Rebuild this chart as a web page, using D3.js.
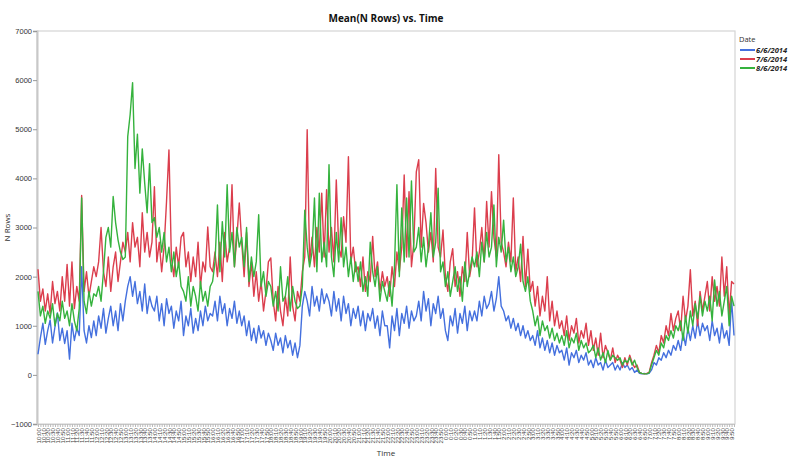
<!DOCTYPE html>
<html><head><meta charset="utf-8">
<script src="https://cdn.jsdelivr.net/npm/d3@7"></script>
<style>body{margin:0;background:#fff;} svg{display:block;font-family:"Open Sans","Noto Sans",sans-serif;}</style>
</head><body><svg id="c" width="800" height="461"></svg>
<script>
// ---- data ----
const seriesNames = ["6/6/2014", "7/6/2014", "8/6/2014"];
const yTicks = [-1000, 0, 1000, 2000, 3000, 4000, 5000, 6000, 7000];
const startMinute = 600;   // 10:00
const stepMinutes = 5;

const blue6 = [
 420,760,1050,620,900,1120,650,980,1260,700,950,640,
 900,320,1050,700,950,800,2200,900,650,1000,760,1100,
 800,1200,950,1350,850,1150,1400,1000,1300,900,1450,1100,
 1500,1800,2000,1600,1900,1450,1700,1300,1850,1250,1600,1400,
 1300,1600,1100,1450,1000,1550,1250,1400,950,1300,1100,1500,
 800,1200,1000,1350,850,1150,900,1300,1000,1400,1100,1250,
 1200,1500,1100,1600,1250,1450,1000,1350,1150,1500,1050,1300,
 1000,1200,800,1100,700,950,650,1000,750,900,600,850,
 700,500,850,600,750,450,800,550,700,400,650,350,
 600,1400,1700,1500,1200,1800,1400,1600,1300,1750,1450,1650,
 1500,1200,1700,1300,1550,1100,1600,1250,1450,1000,1350,1150,
 1400,1000,1300,900,1250,1100,1350,950,1200,800,1300,1000,
 1000,550,1200,900,1350,800,1250,1050,1400,950,1300,1100,
 1200,1500,1100,1700,1300,1550,1000,1450,1250,1600,1150,1350,
 900,700,1200,1000,1350,850,1250,1050,1400,900,1300,1100,
 1300,1100,1500,1200,1600,1350,1450,1700,1300,1550,2000,1400,
 1300,1100,1200,950,1150,900,1050,800,1000,750,900,700,
 800,600,900,550,750,500,700,450,650,400,600,450,
 500,300,550,200,450,350,500,250,400,300,450,200,
 300,150,350,200,250,100,300,150,200,250,100,200,
 100,250,150,200,100,150,50,100,30,20,30,20,
 30,100,250,200,350,300,450,350,500,400,600,500,
 700,500,850,600,950,700,1000,750,1100,800,1050,900,
 1000,700,1100,800,950,650,1050,750,900,600,1530,800
];
const red7 = [
 2150,1500,1750,1300,1650,1250,1900,1450,1700,1300,2000,1500,
 2250,1400,2300,1350,1800,1500,3650,1700,2100,1600,1900,2200,
 2000,2300,3000,2100,1800,2400,1700,2200,2500,1900,2300,2700,
 2500,2900,2300,3100,2600,2800,2200,3300,2500,2900,2400,2700,
 3830,2300,2700,2100,2600,3530,4580,2400,2000,2600,2200,2800,
 2900,2200,2500,1900,2400,2000,2700,1800,2300,2100,3010,2200,
 2100,2500,2000,2700,1900,2900,2300,2600,3870,2200,2800,3500,
 2700,2000,2900,1800,2300,1600,2100,1500,1900,1300,1700,2300,
 2380,1500,1100,1800,1300,1000,1600,1200,2400,1400,1100,1700,
 1500,2100,2400,4990,2300,2800,2200,3000,2500,3700,2400,3770,
 2500,3000,2300,3970,2600,2400,3220,2700,4440,2300,2600,2100,
 2200,1800,2400,1700,2100,1900,2820,2000,2300,1700,2100,1800,
 2000,1600,2200,1800,2500,2100,2600,4070,2400,3730,2200,2700,
 4130,4380,2600,3490,3100,2500,2900,2300,4200,2600,2400,2950,
 2000,1700,2300,2570,1800,2100,1600,2200,1900,2900,2000,2300,
 3400,2200,2500,3000,2300,3530,2600,3730,2800,2400,4480,2700,
 2500,2200,2700,2300,3600,2100,2400,1900,2820,1800,2560,1700,
 1900,1400,1800,1200,1600,1300,2000,1100,1500,1000,1300,950,
 1100,800,1200,700,1000,850,1150,650,900,750,1050,600,
 900,500,750,400,850,350,600,450,300,550,250,400,
 300,150,350,200,400,250,150,200,50,30,20,30,
 50,250,400,600,450,800,650,1000,800,1250,900,1150,
 1300,900,1600,1100,1400,2140,1200,1500,1000,1700,1300,1600,
 1900,1300,2000,1500,1800,1400,2400,1600,2200,1200,1900,1850
];
const green8 = [
 1700,1200,1400,1050,1300,1150,1450,1000,1250,1100,1500,1150,
 1300,1000,1450,1100,900,1350,3600,1500,1250,1700,1400,1650,
 1600,1800,1500,2100,2800,3000,2600,3630,3100,2750,2500,2350,
 2400,4850,5300,5950,4200,4900,3700,4600,3900,3300,4300,3100,
 3200,2800,3000,2500,2900,2300,2600,2100,2500,2000,2300,1800,
 1700,1500,2000,1400,1800,1600,1300,1900,1500,1700,1400,1800,
 1900,2300,3460,2100,3120,2400,3870,2500,2900,2200,3000,2600,
 2800,2200,3000,1900,2400,2000,2300,3260,1800,2100,1600,1900,
 1800,1400,1700,1300,2200,1500,1600,2000,1300,1800,1500,1350,
 1400,1800,3350,2600,2200,2500,3600,2100,3700,2300,2700,2200,
 4280,2400,2000,2900,2300,3200,2200,2600,2000,2400,1900,2300,
 1900,2300,1700,2000,1600,2700,2100,1800,2200,1500,1900,1700,
 1500,1900,1400,2200,3870,2000,3400,2300,3600,2400,3950,2500,
 2600,3000,2300,2800,2200,2600,3300,2400,2700,3800,2100,2300,
 1800,2100,1600,1900,2200,1700,2000,1500,2300,1800,2100,2400,
 2200,2500,2000,2700,2300,2900,2400,2600,3460,2200,2800,2500,
 3150,2300,2600,2100,2400,2000,2200,2660,1900,1700,2000,1500,
 1300,1000,1200,800,1100,900,1000,750,950,700,850,650,
 800,600,900,550,750,650,850,500,700,550,650,450,
 500,600,350,550,300,450,250,500,300,400,350,300,
 350,200,300,250,350,200,300,150,50,30,20,20,
 40,200,350,500,400,650,550,800,700,900,750,1000,
 900,1100,700,1200,850,1300,1000,1450,1150,1600,1200,1500,
 1300,1600,1100,1930,1400,1700,1200,1500,1800,1000,1600,1400
];
const times = blue6.map((_, i) => {
  const m = (startMinute + stepMinutes * i) % 1440;
  return Math.floor(m / 60) + ":" + String(m % 60).padStart(2, "0");
});
const series = [
  {name: seriesNames[0], values: blue6, color: "#4470DE"},
  {name: seriesNames[1], values: red7, color: "#DB3E4D"},
  {name: seriesNames[2], values: green8, color: "#35B23D"}
];

// ---- layout ----
const svg = d3.select("#c");
const L = 37, R = 735, T = 31, B = 424;
const x = d3.scalePoint().domain(times).range([L + 1, R - 1]);
const y = d3.scaleLinear().domain([-1000, 7000]).range([B, T]);

// frame
svg.append("rect").attr("x", L).attr("y", T).attr("width", R - L).attr("height", B - T)
  .attr("fill", "none").attr("stroke", "#d4d4d4").attr("stroke-width", 1.2);

// y axis
const ya = svg.append("g").attr("transform", `translate(${L},0)`)
  .call(d3.axisLeft(y).tickValues(yTicks).tickSize(4).tickFormat(d3.format("d")));
ya.select(".domain").attr("stroke", "#c8c8c8").attr("stroke-width", 2);
ya.selectAll(".tick line").attr("stroke", "#999");
ya.selectAll(".tick text").attr("font-size", 7.5).attr("fill", "#333").attr("x", -5);

// x axis ticks (every point)
const xa1 = svg.append("g").attr("transform", `translate(0,${B})`)
  .call(d3.axisBottom(x).tickSize(3).tickFormat(""));
xa1.select(".domain").attr("stroke", "#c8c8c8");
xa1.selectAll(".tick line").attr("stroke", "#bbb");

// x axis labels (every other point)
const xa2 = svg.append("g").attr("transform", `translate(0,${B})`)
  .call(d3.axisBottom(x).tickValues(times.filter((d, i) => i % 2 === 0)).tickSize(0));
xa2.select(".domain").remove();
xa2.selectAll(".tick text")
  .attr("font-size", 6.2).attr("fill", "#444")
  .attr("transform", "rotate(-90)").attr("text-anchor", "end")
  .attr("x", -4).attr("y", 0).attr("dy", "0.35em");

// lines
const line = d3.line().x((d, i) => x(times[i])).y(d => y(d));
svg.append("g").selectAll("path").data(series).join("path")
  .attr("d", d => line(d.values))
  .attr("fill", "none").attr("stroke", d => d.color)
  .attr("stroke-width", 1.4).attr("stroke-linejoin", "round");

// title & axis labels
svg.append("text").attr("x", (L + R) / 2).attr("y", 22).attr("text-anchor", "middle")
  .attr("font-size", 10).attr("font-weight", "bold").attr("fill", "#111").text("Mean(N Rows) vs. Time");
svg.append("text").attr("x", (L + R) / 2).attr("y", 456).attr("text-anchor", "middle")
  .attr("font-size", 8).attr("fill", "#333").text("Time");
svg.append("text").attr("transform", `translate(10,${(T + B) / 2}) rotate(-90)`).attr("text-anchor", "middle")
  .attr("font-size", 8).attr("fill", "#333").text("N Rows");

// legend
const lg = svg.append("g").attr("transform", "translate(739,0)");
lg.append("text").attr("x", 0).attr("y", 42).attr("font-size", 7.5).attr("fill", "#333").text("Date");
const li = lg.selectAll("g.item").data(series).join("g").attr("class", "item")
  .attr("transform", (d, i) => `translate(0,${50 + i * 9})`);
li.append("line").attr("x1", 1).attr("x2", 16).attr("y1", 0).attr("y2", 0)
  .attr("stroke", d => d.color).attr("stroke-width", 2);
li.append("text").attr("x", 17).attr("y", 0).attr("dy", "0.35em")
  .attr("font-size", 7.5).attr("font-weight", "bold").attr("font-style", "italic").attr("fill", "#222")
  .text(d => d.name);
</script>
</body></html>
